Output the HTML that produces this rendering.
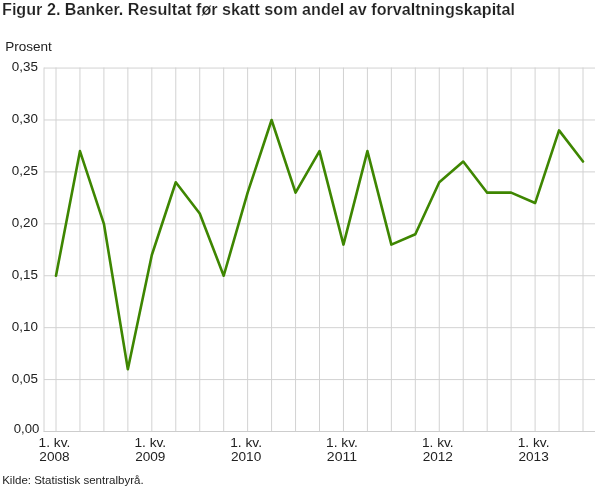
<!DOCTYPE html>
<html><head><meta charset="utf-8"><title>Figur 2</title>
<style>
html,body{margin:0;padding:0;background:#fff;}
body{width:610px;height:488px;overflow:hidden;font-family:"Liberation Sans",sans-serif;}
svg{display:block;position:absolute;left:0;top:0;}
text{font-family:"Liberation Sans",sans-serif;fill:#222;}
.t{font-weight:bold;font-size:15.8px;fill:#222;stroke:#fff;stroke-width:0.18px;stroke-linejoin:round;}
.a{font-size:12.3px;fill:#222;}
.s{font-size:11.2px;fill:#222;}
.g{stroke:#d2d2d2;stroke-width:1;fill:none;}
.ax{stroke:#cdcdcd;stroke-width:1;fill:none;}
</style></head><body>
<svg width="610" height="488" viewBox="0 0 610 488">
<rect x="0" y="0" width="610" height="488" fill="#ffffff"/>

<g class="g">
<line x1="44.0" y1="379.58" x2="595.0" y2="379.58"/>
<line x1="44.0" y1="327.66" x2="595.0" y2="327.66"/>
<line x1="44.0" y1="275.74" x2="595.0" y2="275.74"/>
<line x1="44.0" y1="223.82" x2="595.0" y2="223.82"/>
<line x1="44.0" y1="171.90" x2="595.0" y2="171.90"/>
<line x1="44.0" y1="119.98" x2="595.0" y2="119.98"/>
<line x1="44.0" y1="68.06" x2="595.0" y2="68.06"/>
<line x1="44.0" y1="67.56" x2="44.0" y2="432.0"/>
<line x1="56.00" y1="67.56" x2="56.00" y2="432.0"/>
<line x1="79.95" y1="67.56" x2="79.95" y2="432.0"/>
<line x1="103.91" y1="67.56" x2="103.91" y2="432.0"/>
<line x1="127.86" y1="67.56" x2="127.86" y2="432.0"/>
<line x1="151.82" y1="67.56" x2="151.82" y2="432.0"/>
<line x1="175.77" y1="67.56" x2="175.77" y2="432.0"/>
<line x1="199.73" y1="67.56" x2="199.73" y2="432.0"/>
<line x1="223.69" y1="67.56" x2="223.69" y2="432.0"/>
<line x1="247.64" y1="67.56" x2="247.64" y2="432.0"/>
<line x1="271.59" y1="67.56" x2="271.59" y2="432.0"/>
<line x1="295.55" y1="67.56" x2="295.55" y2="432.0"/>
<line x1="319.50" y1="67.56" x2="319.50" y2="432.0"/>
<line x1="343.46" y1="67.56" x2="343.46" y2="432.0"/>
<line x1="367.41" y1="67.56" x2="367.41" y2="432.0"/>
<line x1="391.37" y1="67.56" x2="391.37" y2="432.0"/>
<line x1="415.32" y1="67.56" x2="415.32" y2="432.0"/>
<line x1="439.28" y1="67.56" x2="439.28" y2="432.0"/>
<line x1="463.23" y1="67.56" x2="463.23" y2="432.0"/>
<line x1="487.19" y1="67.56" x2="487.19" y2="432.0"/>
<line x1="511.14" y1="67.56" x2="511.14" y2="432.0"/>
<line x1="535.10" y1="67.56" x2="535.10" y2="432.0"/>
<line x1="559.05" y1="67.56" x2="559.05" y2="432.0"/>
<line x1="583.01" y1="67.56" x2="583.01" y2="432.0"/>
</g>
<line class="ax" x1="43.7" y1="431.5" x2="595.0" y2="431.5"/>
<polyline points="56.00,275.74 79.95,151.13 103.91,223.82 127.86,369.20 151.82,254.97 175.77,182.28 199.73,213.44 223.69,275.74 247.64,192.67 271.59,119.98 295.55,192.67 319.50,151.13 343.46,244.59 367.41,151.13 391.37,244.59 415.32,234.20 439.28,182.28 463.23,161.52 487.19,192.67 511.14,192.67 535.10,203.05 559.05,130.36 583.01,161.52" fill="none" stroke="#3e8601" stroke-width="2.6" stroke-linejoin="round" stroke-linecap="round"/>
<g style="filter:grayscale(1)">
<text class="t" x="2.0" y="15" textLength="513" lengthAdjust="spacingAndGlyphs">Figur 2. Banker. Resultat før skatt som andel av forvaltningskapital</text>
<text class="a" x="5.2" y="51" textLength="46.6" lengthAdjust="spacingAndGlyphs">Prosent</text>
<text class="a" x="39.4" y="433.0" text-anchor="end" textLength="25.6" lengthAdjust="spacingAndGlyphs">0,00</text>
<text class="a" x="37.9" y="382.8" text-anchor="end" textLength="26.1" lengthAdjust="spacingAndGlyphs">0,05</text>
<text class="a" x="37.9" y="330.9" text-anchor="end" textLength="26.1" lengthAdjust="spacingAndGlyphs">0,10</text>
<text class="a" x="37.9" y="278.9" text-anchor="end" textLength="26.1" lengthAdjust="spacingAndGlyphs">0,15</text>
<text class="a" x="37.9" y="227.0" text-anchor="end" textLength="26.1" lengthAdjust="spacingAndGlyphs">0,20</text>
<text class="a" x="37.9" y="175.1" text-anchor="end" textLength="26.1" lengthAdjust="spacingAndGlyphs">0,25</text>
<text class="a" x="37.9" y="123.2" text-anchor="end" textLength="26.1" lengthAdjust="spacingAndGlyphs">0,30</text>
<text class="a" x="37.9" y="71.3" text-anchor="end" textLength="26.1" lengthAdjust="spacingAndGlyphs">0,35</text>
<text class="a" x="54.5" y="447" text-anchor="middle" textLength="31.8" lengthAdjust="spacingAndGlyphs">1. kv.</text>
<text class="a" x="54.5" y="461" text-anchor="middle" textLength="30.3" lengthAdjust="spacingAndGlyphs">2008</text>
<text class="a" x="150.3" y="447" text-anchor="middle" textLength="31.8" lengthAdjust="spacingAndGlyphs">1. kv.</text>
<text class="a" x="150.3" y="461" text-anchor="middle" textLength="30.3" lengthAdjust="spacingAndGlyphs">2009</text>
<text class="a" x="246.1" y="447" text-anchor="middle" textLength="31.8" lengthAdjust="spacingAndGlyphs">1. kv.</text>
<text class="a" x="246.1" y="461" text-anchor="middle" textLength="30.3" lengthAdjust="spacingAndGlyphs">2010</text>
<text class="a" x="342.0" y="447" text-anchor="middle" textLength="31.8" lengthAdjust="spacingAndGlyphs">1. kv.</text>
<text class="a" x="342.0" y="461" text-anchor="middle" textLength="30.3" lengthAdjust="spacingAndGlyphs">2011</text>
<text class="a" x="437.8" y="447" text-anchor="middle" textLength="31.8" lengthAdjust="spacingAndGlyphs">1. kv.</text>
<text class="a" x="437.8" y="461" text-anchor="middle" textLength="30.3" lengthAdjust="spacingAndGlyphs">2012</text>
<text class="a" x="533.6" y="447" text-anchor="middle" textLength="31.8" lengthAdjust="spacingAndGlyphs">1. kv.</text>
<text class="a" x="533.6" y="461" text-anchor="middle" textLength="30.3" lengthAdjust="spacingAndGlyphs">2013</text>
<text class="s" x="2.2" y="484" textLength="141.4" lengthAdjust="spacingAndGlyphs">Kilde: Statistisk sentralbyrå.</text>
</g>
</svg>
</body></html>
